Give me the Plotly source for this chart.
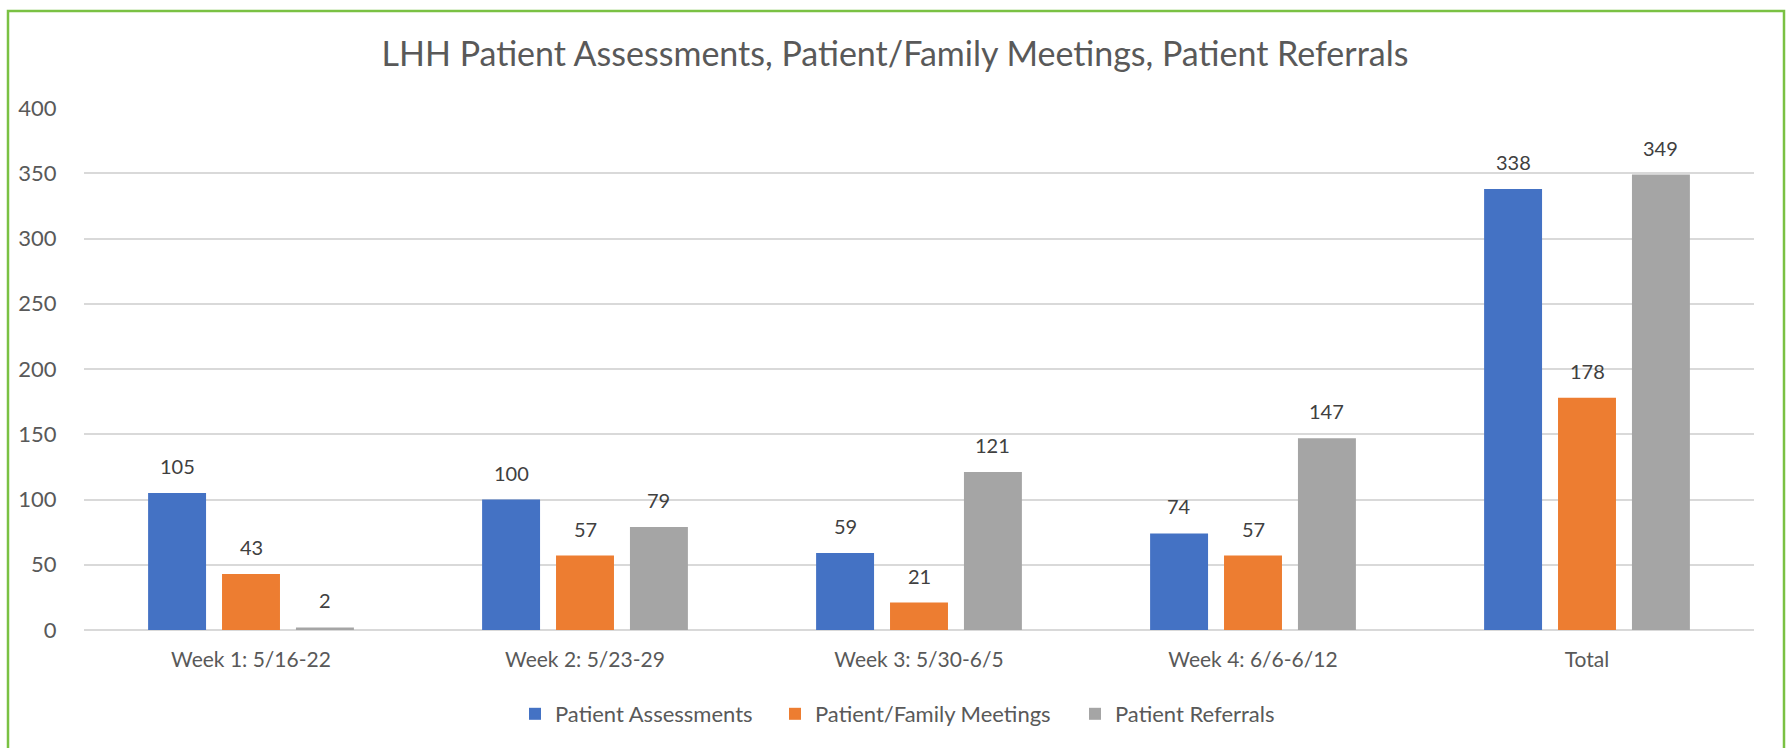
import plotly.graph_objects as go

categories = ["Week 1: 5/16-22", "Week 2: 5/23-29", "Week 3: 5/30-6/5", "Week 4: 6/6-6/12", "Total"]
patient_assessments = [105, 100, 59, 74, 338]
family_meetings = [43, 57, 21, 57, 178]
patient_referrals = [2, 79, 121, 147, 349]
series_names = ["Patient Assessments", "Patient/Family Meetings", "Patient Referrals"]
series_colors = ["#4472C4", "#ED7D31", "#A5A5A5"]
y_ticks = [0, 50, 100, 150, 200, 250, 300, 350, 400]

W, H = 1790, 748
ML, MR, MT, MB = 84, 36, 108, 118
plot_w = W - ML - MR
plot_h = H - MT - MB
BARGAP = 0.336
BARGROUPGAP = 0.216
FONT = "Lato"
LEGEND_SQUARE_LEFT_PX = [529, 789, 1089]
LEGEND_OFFSET_PX = 14

fig = go.Figure()
all_series = [patient_assessments, family_meetings, patient_referrals]
legend_ids = ["legend", "legend2", "legend3"]
for name, vals, col, lid in zip(series_names, all_series, series_colors, legend_ids):
    fig.add_trace(go.Bar(name=name, x=categories, y=vals, marker_color=col,
                         marker_line_width=0, hoverinfo="x+y+name", legend=lid))

# data labels above each bar
cat_px = plot_w / len(categories)
slot_px = cat_px * (1 - BARGAP) / len(all_series)
annotations = []
for i, vals in enumerate(all_series):
    shift = (i - (len(all_series) - 1) / 2) * slot_px
    for c, v in zip(categories, vals):
        annotations.append(dict(x=c, y=v, xref="x", yref="y", text=str(v),
                                showarrow=False, xshift=shift, yshift=13,
                                yanchor="bottom",
                                font=dict(family=FONT, size=20, color="#404040")))

legend_layouts = {}
for lid, px in zip(legend_ids, LEGEND_SQUARE_LEFT_PX):
    legend_layouts[lid] = dict(orientation="h", x=(px - LEGEND_OFFSET_PX - ML) / plot_w,
                               xanchor="left", y=-(714 - (H - MB)) / plot_h, yanchor="middle",
                               font=dict(family=FONT, size=22, color="#595959"),
                               bgcolor="rgba(0,0,0,0)", borderwidth=0)

fig.update_layout(
    width=W, height=H,
    margin=dict(l=ML, r=MR, t=MT, b=MB, pad=0),
    paper_bgcolor="white", plot_bgcolor="white",
    barmode="group", bargap=BARGAP, bargroupgap=BARGROUPGAP,
    title=dict(text="LHH Patient Assessments, Patient/Family Meetings, Patient Referrals",
               x=0.5, xanchor="center", y=1 - 54 / H, yanchor="middle",
               font=dict(family=FONT, size=34, color="#595959")),
    font=dict(family=FONT, color="#595959", size=21),
    showlegend=True,
    annotations=annotations,
    shapes=[dict(type="rect", xref="paper", yref="paper", layer="above",
                 x0=-(ML - 8) / plot_w, x1=1 + (1784 - (W - MR)) / plot_w,
                 y0=-(MB + 40) / plot_h, y1=1 + (MT - 11) / plot_h,
                 line=dict(color="#7AC143", width=2.5), fillcolor="rgba(0,0,0,0)")],
    **legend_layouts,
)
fig.update_xaxes(showgrid=False, showline=False, zeroline=False,
                 ticks="outside", ticklen=11, tickcolor="rgba(0,0,0,0)",
                 tickfont=dict(family=FONT, size=21, color="#595959"))
fig.update_yaxes(range=[0, 400], tickvals=y_ticks, showgrid=True, gridcolor="#D9D9D9",
                 gridwidth=1.5, zeroline=True, zerolinecolor="#D9D9D9", zerolinewidth=1.5,
                 showline=False, ticks="outside", ticklen=22, tickcolor="rgba(0,0,0,0)",
                 tickfont=dict(family=FONT, size=22, color="#595959"))

fig.write_html("out.html", config={"displayModeBar": False},
               post_script="document.body.style.margin='0';")
